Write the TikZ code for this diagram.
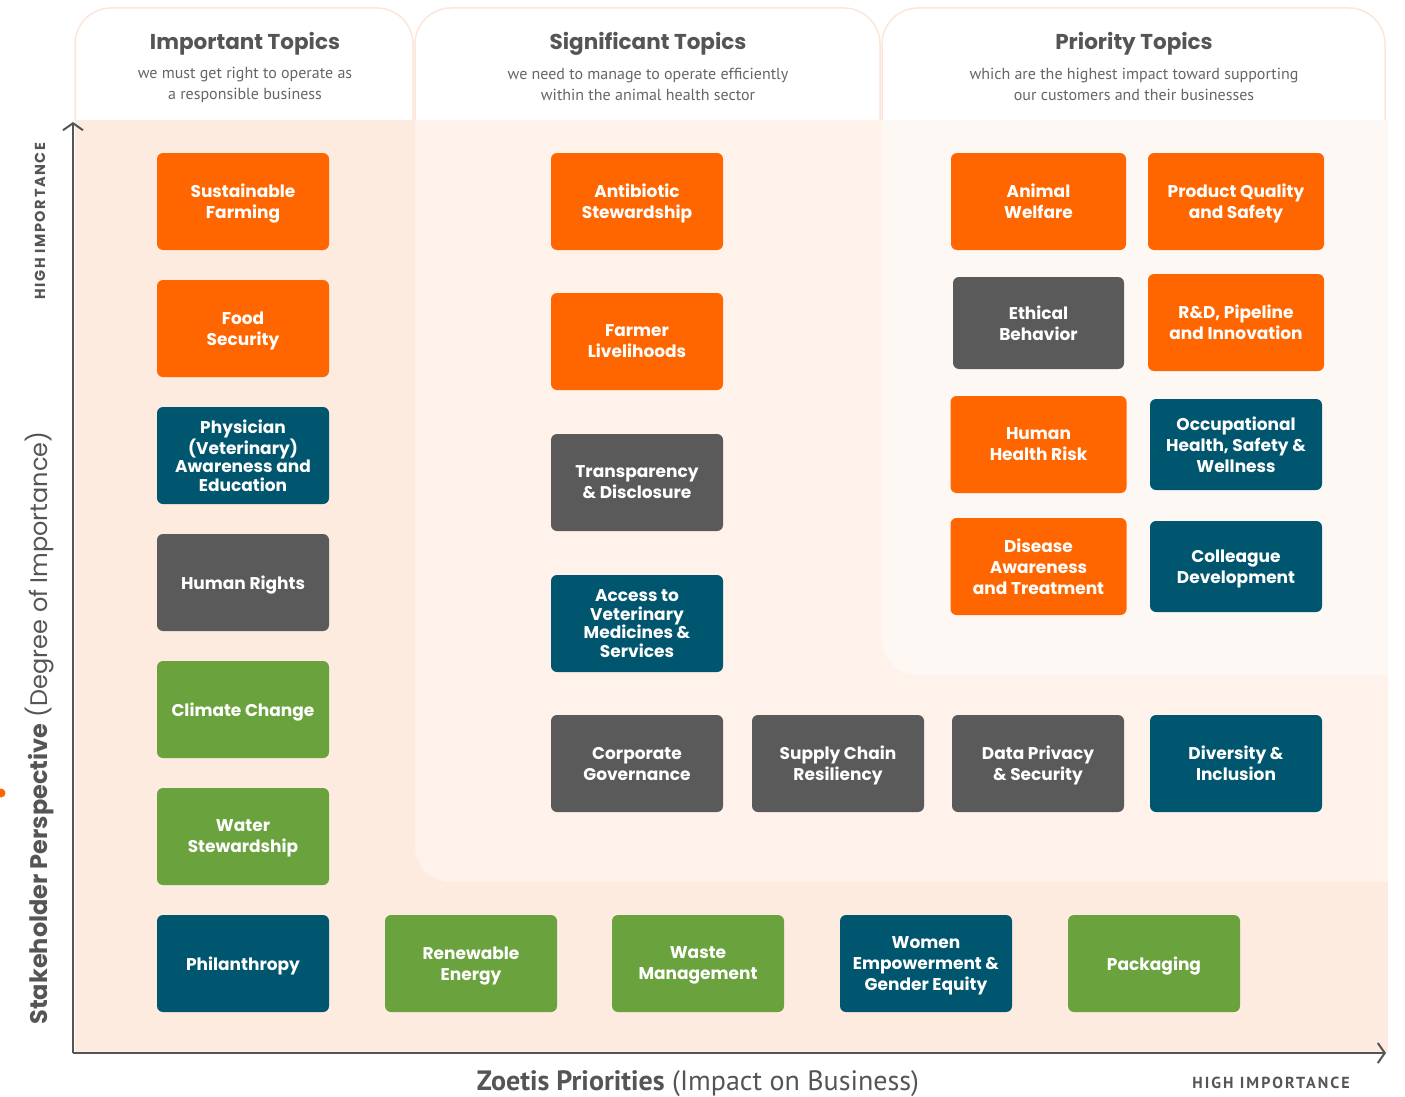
\documentclass[tikz,border=0pt]{standalone}
\usepackage{fontspec}
\setmainfont{Poppins}
\newfontfamily\pts{PT Sans}
\usetikzlibrary{arrows.meta}
\definecolor{org}{HTML}{FF6600}
\definecolor{blu}{HTML}{00566F}
\definecolor{gry}{HTML}{5A5A5A}
\definecolor{grn}{HTML}{6AA33D}
\definecolor{peachA}{HTML}{FDEBE0}
\definecolor{peachB}{HTML}{FEF2EB}
\definecolor{peachC}{HTML}{FEF8F4}
\definecolor{hdrline}{HTML}{FCE6DA}
\definecolor{ttl}{HTML}{555555}
\definecolor{sub}{HTML}{666666}
\begin{document}
\begin{tikzpicture}[x=1pt,y=-1pt,
  box/.style={rounded corners=6pt, minimum width=172pt, minimum height=97pt, text=white, align=center, inner sep=0pt, text depth=-8pt, font=\fontsize{17}{21}\selectfont\bfseries},
  tight/.style={font=\fontsize{17}{18.7}\selectfont\bfseries},
  hdr/.style={fill=white, draw=hdrline, line width=1.5pt, rounded corners=36pt},
  htitle/.style={text=ttl, font=\fontsize{21.5}{24}\selectfont\bfseries},
  hsub/.style={text=sub, align=center, font=\pts\fontsize{16}{21}\selectfont},
  axis/.style={draw=ttl, line width=2pt, -{Straight Barb[length=7pt,width=20pt,line width=2pt]}},
  small/.style={text=ttl, font=\fontsize{14.5}{16}\selectfont\bfseries\addfontfeature{LetterSpace=11}}
]
\useasboundingbox (0,0) rectangle (1405,1097);
% panels
\fill[peachA] (75,120) rectangle (1388,1053);
\fill[peachB, rounded corners=36pt] (415,120) -- (415,882) -- (1388,882) -- (1388,120) -- cycle;
\fill[peachB] (1300,120) rectangle (1388,882);
\fill[peachB] (415,120) rectangle (500,300);
\fill[peachC, rounded corners=36pt] (882,120) -- (882,675) -- (1388,675) -- (1388,120) -- cycle;
\fill[peachC] (1300,120) rectangle (1388,675);
\fill[peachC] (882,120) rectangle (950,300);
% headers
\path[hdr] (75,120) -- (75,8) -- (413,8) -- (413,120);
\fill[white] (77,100) rectangle (411,120);
\path[hdr] (415,120) -- (415,8) -- (880,8) -- (880,120);
\fill[white] (417,100) rectangle (878,120);
\path[hdr] (882,120) -- (882,8) -- (1385,8) -- (1385,120);
\fill[white] (884,100) rectangle (1383,120);
\node[htitle] (t1) at (245,44) {Important Topics};
\node[hsub] (s1) at (245,84.5) {we must get right to operate as\\a responsible business};
\node[htitle] (t2) at (648,44) {Significant Topics};
\node[hsub] (s2) at (648,84.5) {we need to manage to operate efficiently\\within the animal health sector};
\node[htitle] (t3) at (1134,44) {Priority Topics};
\node[hsub] (s3) at (1134,84.5) {which are the highest impact toward supporting\\our customers and their businesses};
% axes
\coordinate (origin) at (73,1053);
\coordinate (ytop) at (73,122);
\coordinate (xend) at (1386,1053);
\draw[axis] (origin) -- (ytop);
\draw[axis] (origin) -- (xend);
\fill[org] (1,793) circle (4.5pt);
\node[rotate=90, text=ttl, font=\fontsize{24}{26}\selectfont] (ylab) at (40,728) {\textbf{Stakeholder Perspective} (Degree of Importance)};
\node[rotate=90, small] (yhi) at (40,221) {HIGH IMPORTANCE};
\node[text=ttl, font=\pts\fontsize{28}{30}\selectfont] (xlab) at (698,1084) {\textbf{Zoetis Priorities} (Impact on Business)};
\node[small, font=\pts\fontsize{16}{18}\selectfont\bfseries\addfontfeature{LetterSpace=13}] (xhi) at (1271,1083) {HIGH IMPORTANCE};
% column 1
\node[box, fill=org] (sf) at (243,201.5) {Sustainable\\Farming};
\node[box, fill=org] (fs) at (243,328.5) {Food\\Security};
\node[box, tight, fill=blu] (pv) at (243,455.5) {Physician\\(Veterinary)\\Awareness and\\Education};
\node[box, fill=gry] (hr) at (243,582.5) {Human Rights};
\node[box, fill=grn] (cc) at (243,709.5) {Climate Change};
\node[box, fill=grn] (ws) at (243,836.5) {Water\\Stewardship};
\node[box, fill=blu] (ph) at (243,963.5) {Philanthropy};
% bottom row
\node[box, fill=grn] (re) at (471,963.5) {Renewable\\Energy};
\node[box, fill=grn] (wm) at (698,963.5) {Waste\\Management};
\node[box, fill=blu] (we) at (926,963.5) {Women\\Empowerment \&\\Gender Equity};
\node[box, fill=grn] (pk) at (1154,963.5) {Packaging};
% column 2
\node[box, fill=org] (as) at (637,201.5) {Antibiotic\\Stewardship};
\node[box, fill=org] (fl) at (637,341.5) {Farmer\\Livelihoods};
\node[box, fill=gry] (td) at (637,482.5) {Transparency\\\& Disclosure};
\node[box, tight, fill=blu] (av) at (637,623.5) {Access to\\Veterinary\\Medicines \&\\Services};
\node[box, fill=gry] (cg) at (637,763.5) {Corporate\\Governance};
\node[box, fill=gry] (sc) at (838,763.5) {Supply Chain\\Resiliency};
\node[box, fill=gry] (dp) at (1038,763.5) {Data Privacy\\\& Security};
\node[box, fill=blu] (di) at (1236,763.5) {Diversity \&\\Inclusion};
% priority
\node[box, fill=org, minimum width=175pt] (aw) at (1038.5,201.5) {Animal\\Welfare};
\node[box, fill=org, minimum width=176pt] (pq) at (1236,201.5) {Product Quality\\and Safety};
\node[box, fill=gry, minimum width=171pt, minimum height=92pt] (eb) at (1038.5,323) {Ethical\\Behavior};
\node[box, fill=org, minimum width=176pt] (rd) at (1236,322.5) {R\&D, Pipeline\\and Innovation};
\node[box, fill=org, minimum width=176pt] (hh) at (1038.5,444.5) {Human\\Health Risk};
\node[box, fill=blu, minimum height=91pt] (oh) at (1236,444.5) {Occupational\\Health, Safety \&\\Wellness};
\node[box, fill=org, minimum width=176pt] (da) at (1038.5,566.5) {Disease\\Awareness\\and Treatment};
\node[box, fill=blu, minimum height=91pt] (cd) at (1236,566.5) {Colleague\\Development};
\end{tikzpicture}
\end{document}
